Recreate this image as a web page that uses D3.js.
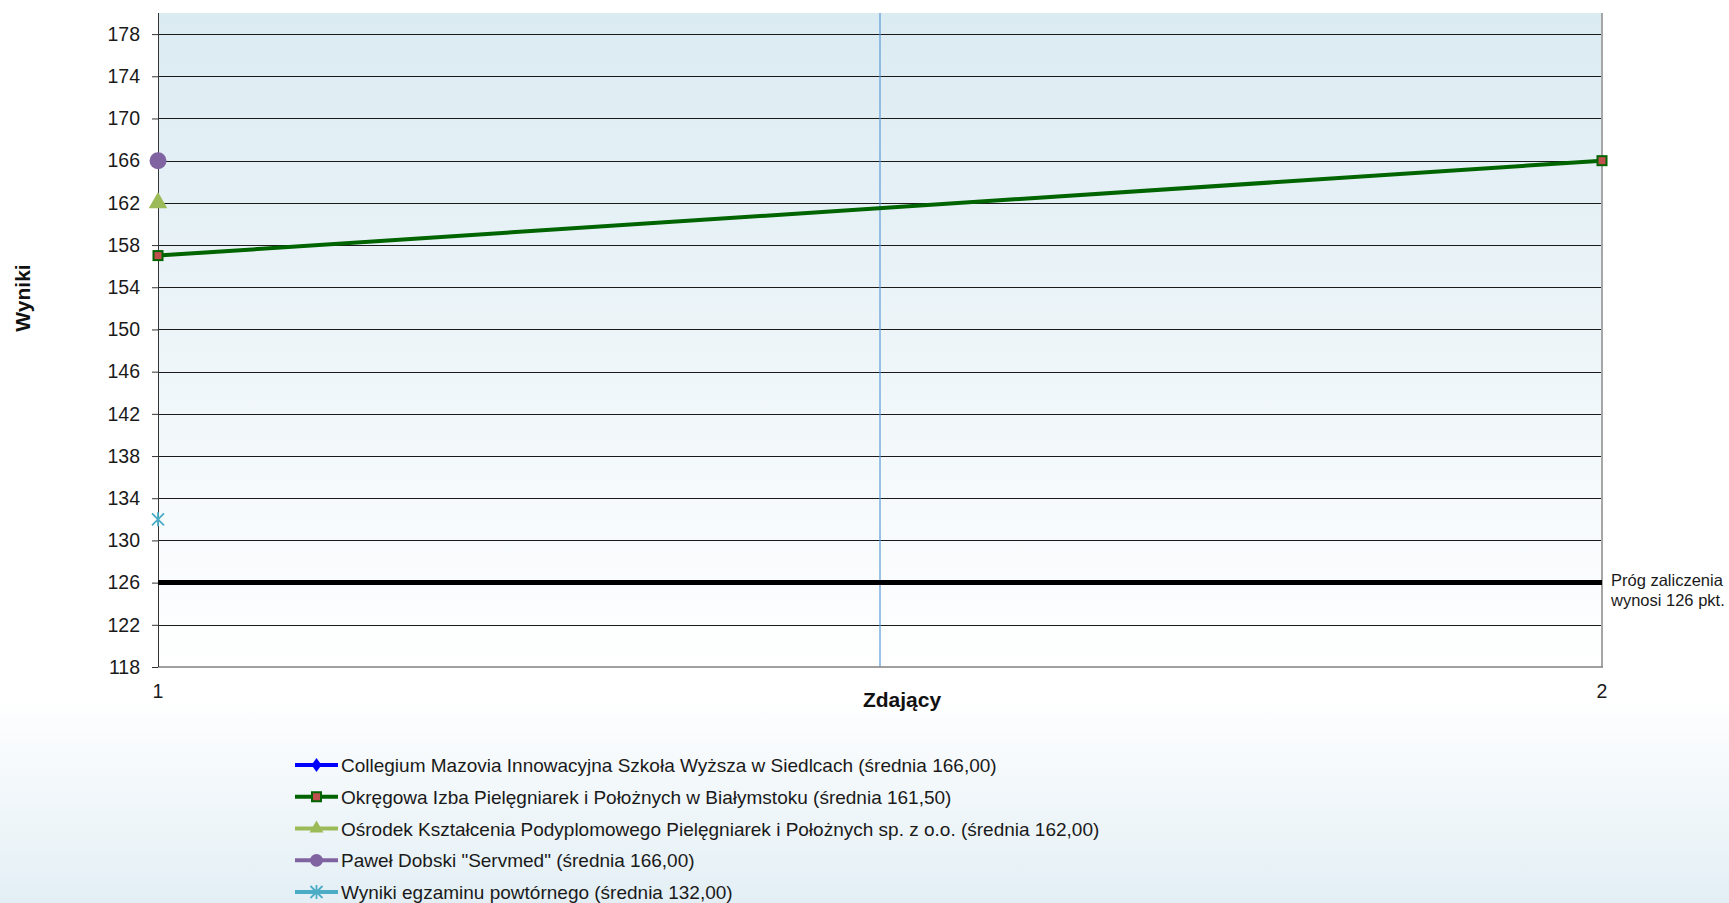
<!DOCTYPE html>
<html>
<head>
<meta charset="utf-8">
<script src="https://cdn.jsdelivr.net/npm/d3@7"></script>
<style>
  body { margin: 0; background: #fff; }
  svg { display: block; font-family: "Liberation Sans", Arial, sans-serif; }
</style>
</head>
<body>
<div id="chart"></div>
<script>
// dane
const categories = [1, 2];
const collegium = [166, null];
const okregowa = [157, 166];
const osrodek = [162, null];
const dobski = [166, null];
const powtorny = [132, null];
const prog = [126, 126];
const yTicks = [118, 122, 126, 130, 134, 138, 142, 146, 150, 154, 158, 162, 166, 170, 174, 178];
const legendLabels = [
  "Collegium Mazovia Innowacyjna Szkoła Wyższa w Siedlcach (średnia 166,00)",
  "Okręgowa Izba Pielęgniarek i Położnych w Białymstoku (średnia 161,50)",
  "Ośrodek Kształcenia Podyplomowego Pielęgniarek i Położnych sp. z o.o. (średnia 162,00)",
  "Paweł Dobski \"Servmed\" (średnia 166,00)",
  "Wyniki egzaminu powtórnego (średnia 132,00)"
];

var W = 1729, H = 903;
var plot = {left: 158, right: 1602, top: 13, bottom: 667};

var svg = d3.select("#chart").append("svg")
    .attr("width", W).attr("height", H);

var defs = svg.append("defs");
var pageGrad = defs.append("linearGradient").attr("id", "pageGrad")
    .attr("x1", 0).attr("y1", 0).attr("x2", 0).attr("y2", 1);
pageGrad.append("stop").attr("offset", "0.77").attr("stop-color", "#ffffff");
pageGrad.append("stop").attr("offset", "1").attr("stop-color", "#e3eff5");
var plotGrad = defs.append("linearGradient").attr("id", "plotGrad")
    .attr("x1", 0).attr("y1", 0).attr("x2", 0).attr("y2", 1);
plotGrad.append("stop").attr("offset", "0").attr("stop-color", "#dbebf2");
plotGrad.append("stop").attr("offset", "1").attr("stop-color", "#ffffff");

svg.append("rect").attr("width", W).attr("height", H).attr("fill", "url(#pageGrad)");

var x = d3.scaleLinear().domain([1, 2]).range([plot.left, plot.right]);
var y = d3.scaleLinear().domain([118, 180]).range([plot.bottom, plot.top]);

svg.append("rect")
    .attr("x", plot.left).attr("y", plot.top)
    .attr("width", plot.right - plot.left).attr("height", plot.bottom - plot.top)
    .attr("fill", "url(#plotGrad)");

// linie siatki
svg.append("g")
    .selectAll("line")
    .data(yTicks.filter(t => t > 118))
    .enter().append("line")
    .attr("x1", plot.left).attr("x2", plot.right)
    .attr("y1", d => Math.round(y(d)) + 0.5).attr("y2", d => Math.round(y(d)) + 0.5)
    .attr("stroke", "#1a1a1a").attr("stroke-width", 1);

// pionowa linia środkowa
svg.append("line")
    .attr("x1", x(1.5)).attr("x2", x(1.5))
    .attr("y1", plot.top).attr("y2", plot.bottom)
    .attr("stroke", "#5b9bd5").attr("stroke-width", 1.2);

// prawa krawędź i dolna oś
svg.append("line")
    .attr("x1", plot.right).attr("x2", plot.right)
    .attr("y1", plot.top).attr("y2", plot.bottom)
    .attr("stroke", "#a6a6a6").attr("stroke-width", 2);
svg.append("line")
    .attr("x1", plot.left).attr("x2", plot.right + 1)
    .attr("y1", plot.bottom).attr("y2", plot.bottom)
    .attr("stroke", "#808080").attr("stroke-width", 1.5);

// oś Y
var yAxis = svg.append("g")
    .attr("transform", `translate(${plot.left},0)`)
    .call(d3.axisLeft(y).tickValues(yTicks).tickSize(6).tickPadding(12));
yAxis.select(".domain").attr("stroke", "#333").attr("d", `M0.5,${plot.top}V${plot.bottom}`);
yAxis.selectAll(".tick line").attr("stroke", "#333");
yAxis.selectAll("text").attr("font-size", 19.5).attr("fill", "#1a1a1a")
    .attr("font-family", "Liberation Sans, Arial, sans-serif");

// oś X - etykiety
svg.append("g").selectAll("text")
    .data(categories)
    .enter().append("text")
    .attr("x", d => x(d)).attr("y", 698)
    .attr("text-anchor", "middle")
    .attr("font-size", 19.5).attr("fill", "#1a1a1a")
    .text(d => d);

svg.append("text")
    .attr("x", 902).attr("y", 707)
    .attr("text-anchor", "middle")
    .attr("font-size", 21).attr("font-weight", "bold").attr("fill", "#111")
    .text("Zdający");

svg.append("text")
    .attr("transform", "translate(30,298) rotate(-90)")
    .attr("text-anchor", "middle")
    .attr("font-size", 21).attr("font-weight", "bold").attr("fill", "#111")
    .text("Wyniki");

// próg zaliczenia
var progData = categories.map((c, i) => ({x: c, y: prog[i]}));
svg.append("path")
    .datum(progData)
    .attr("d", d3.line().x(d => x(d.x)).y(d => y(d.y)))
    .attr("stroke", "#000").attr("stroke-width", 5).attr("fill", "none");
svg.append("text")
    .attr("x", 1611).attr("y", 586)
    .attr("font-size", 16.5).attr("fill", "#1a1a1a")
    .text("Próg zaliczenia");
svg.append("text")
    .attr("x", 1611).attr("y", 606)
    .attr("font-size", 16.5).attr("fill", "#1a1a1a")
    .text("wynosi  126 pkt.");

// serie
var series = [
  {values: collegium, color: "#0000ff", marker: "diamond", fill: "#0000ff"},
  {values: okregowa, color: "#006400", marker: "square", fill: "#c0504d"},
  {values: osrodek, color: "#9bbb59", marker: "triangle", fill: "#9bbb59"},
  {values: dobski, color: "#8064a2", marker: "circle", fill: "#8064a2"},
  {values: powtorny, color: "#4bacc6", marker: "cross", fill: "#4bacc6"}
];

function drawMarker(g, type, fill, stroke, big) {
  var s = big ? 1 : 0.75;
  if (type === "circle") {
    g.append("circle").attr("r", 8.5 * s).attr("fill", fill);
  } else if (type === "triangle") {
    g.append("path").attr("d", d3.symbol(d3.symbolTriangle, 150 * s * s)()).attr("fill", fill);
  } else if (type === "square") {
    g.append("rect").attr("x", -4.5).attr("y", -4.5).attr("width", 9).attr("height", 9)
        .attr("fill", fill).attr("stroke", stroke).attr("stroke-width", 2);
  } else if (type === "diamond") {
    g.append("path").attr("d", "M0,-7L5,0L0,7L-5,0Z").attr("fill", fill);
  } else if (type === "cross") {
    g.append("path").attr("d", "M-6,-6L6,6M-6,6L6,-6M0,-7V7")
        .attr("stroke", fill).attr("stroke-width", 1.8).attr("fill", "none");
  }
}

var line = d3.line()
    .defined(d => d.y != null)
    .x(d => x(d.x)).y(d => y(d.y));

series.forEach(s => {
  var pts = categories.map((c, i) => ({x: c, y: s.values[i]}));
  svg.append("path").datum(pts)
      .attr("d", line)
      .attr("stroke", s.color).attr("stroke-width", 4).attr("fill", "none");
  svg.append("g").selectAll("g")
      .data(pts.filter(p => p.y != null))
      .enter().append("g")
      .attr("transform", p => `translate(${x(p.x)},${y(p.y)})`)
      .each(function() { drawMarker(d3.select(this), s.marker, s.fill, s.color, true); });
});

// legenda
var legend = svg.append("g").attr("transform", "translate(295,0)");
var legY = d3.scalePoint().domain(d3.range(legendLabels.length)).range([765, 892]);
legendLabels.forEach((lab, i) => {
  var row = legend.append("g").attr("transform", `translate(0,${legY(i)})`);
  row.append("line").attr("x1", 0).attr("x2", 43)
      .attr("stroke", series[i].color).attr("stroke-width", 4);
  var m = row.append("g").attr("transform", "translate(21.5,0)");
  drawMarker(m, series[i].marker, series[i].fill, series[i].color, false);
  row.append("text").attr("x", 46).attr("y", 7)
      .attr("font-size", 19).attr("fill", "#1a1a1a")
      .text(lab);
});
</script>
</body>
</html>
